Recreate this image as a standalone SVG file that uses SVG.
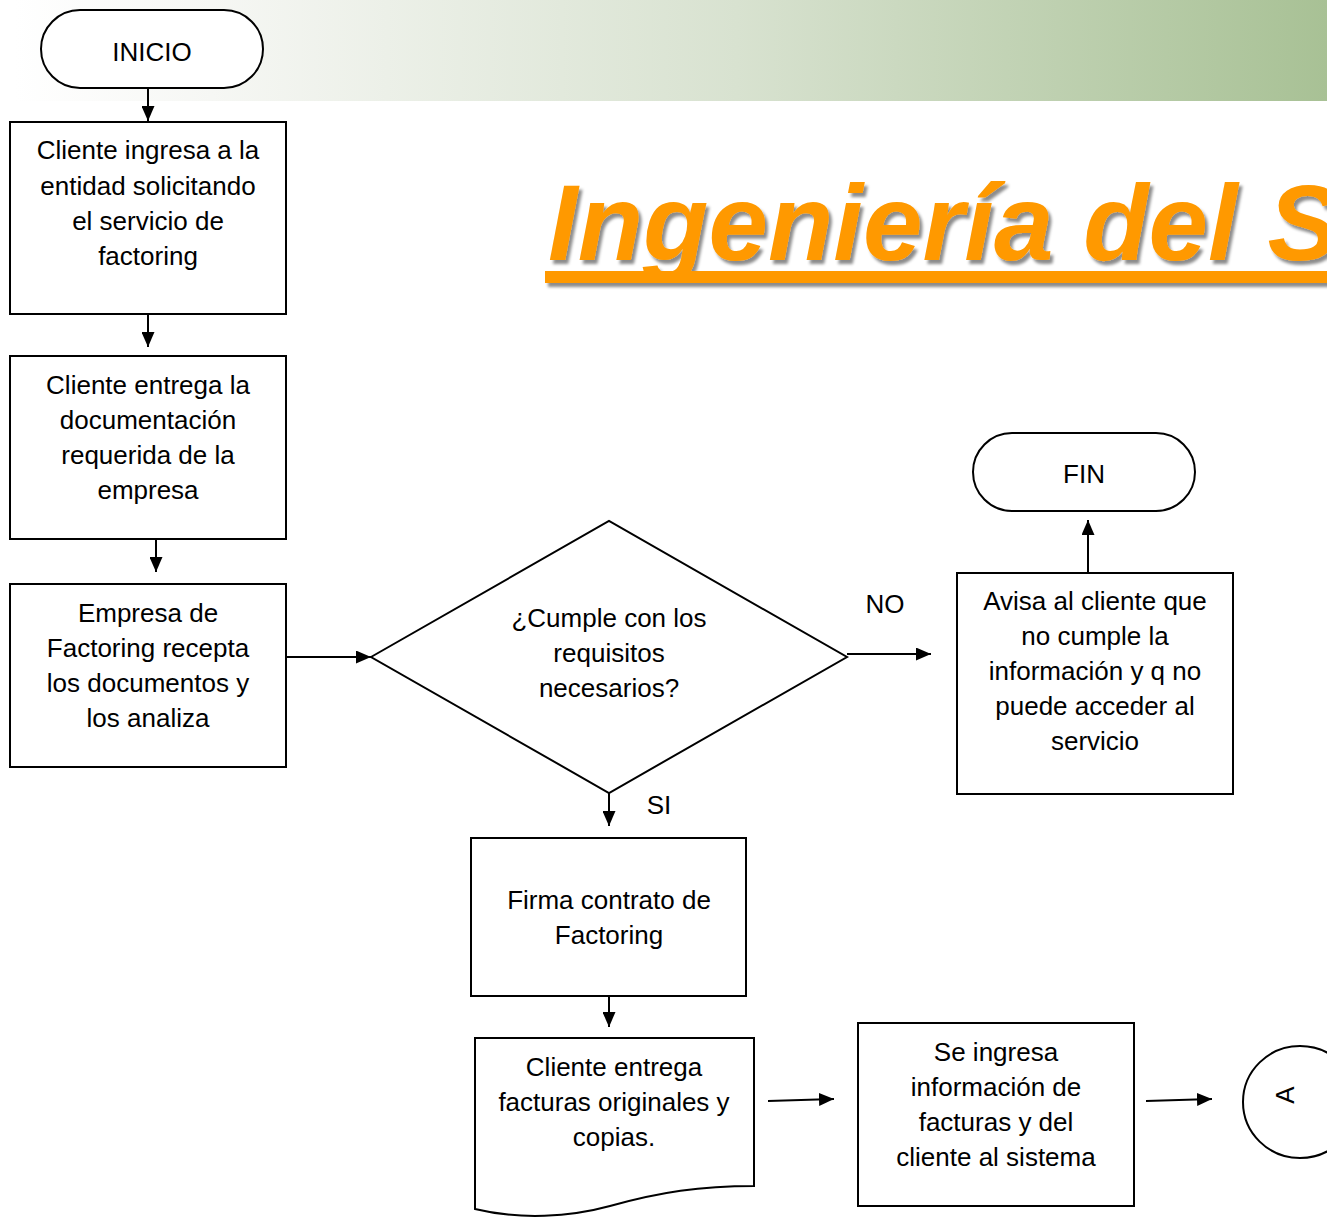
<svg xmlns="http://www.w3.org/2000/svg" width="1327" height="1218" viewBox="0 0 1327 1218">
<defs>
<linearGradient id="bg" x1="0" y1="0" x2="1" y2="0">
<stop offset="0" stop-color="#ffffff"/>
<stop offset="0.15" stop-color="#f6f7f4"/>
<stop offset="0.55" stop-color="#d8e2d0"/>
<stop offset="1" stop-color="#a8c195"/>
</linearGradient>
<marker id="ah" viewBox="0 0 15 13" refX="15" refY="6.5" markerWidth="15" markerHeight="13" markerUnits="userSpaceOnUse" orient="auto">
<path d="M0,0 L15,6.5 L0,13 z" fill="#000"/>
</marker>
<filter id="sh" x="-5%" y="-20%" width="110%" height="140%">
<feDropShadow dx="3" dy="4" stdDeviation="1.5" flood-color="#000" flood-opacity="0.45"/>
</filter>
</defs>
<style>
.n{fill:#fff;stroke:#000;stroke-width:2}
.t{font-family:"Liberation Sans",Arial,sans-serif;font-size:26px;fill:#000;text-anchor:middle}
.c{stroke:#000;stroke-width:2;fill:none;marker-end:url(#ah)}
</style>
<rect x="15" y="0" width="1312" height="101" fill="url(#bg)"/>
<g id="title" filter="url(#sh)">
<text x="548" y="260" font-family="Liberation Sans,Arial,sans-serif" font-size="107" font-weight="bold" font-style="italic" fill="#ff9900">Ingeniería del S</text>
<rect x="545" y="271" width="782" height="12" fill="#ff9900"/>
</g>
<g id="connectors">
<line class="c" x1="148" y1="88" x2="148" y2="121"/>
<line class="c" x1="148" y1="314" x2="148" y2="347"/>
<line class="c" x1="156" y1="539" x2="156" y2="572"/>
<line class="c" x1="286" y1="657" x2="371" y2="657"/>
<line class="c" x1="847" y1="654" x2="931" y2="654"/>
<line class="c" x1="1088" y1="573" x2="1088" y2="520"/>
<line class="c" x1="609" y1="793" x2="609" y2="826"/>
<line class="c" x1="609" y1="996" x2="609" y2="1027"/>
<line class="c" x1="768" y1="1101" x2="834" y2="1099"/>
<line class="c" x1="1146" y1="1101" x2="1212" y2="1099"/>
<text class="t" x="885" y="613">NO</text>
<text class="t" x="659" y="814">SI</text>
</g>
<g id="inicio">
<rect class="n" x="41" y="10" width="222" height="78" rx="39" ry="39"/>
<text class="t" x="152" y="61">INICIO</text>
</g>
<g id="box1">
<rect class="n" x="10" y="122" width="276" height="192"/>
<text class="t" x="148" y="159">Cliente ingresa a la</text>
<text class="t" x="148" y="195">entidad solicitando</text>
<text class="t" x="148" y="230">el servicio de</text>
<text class="t" x="148" y="265">factoring</text>
</g>
<g id="box2">
<rect class="n" x="10" y="356" width="276" height="183"/>
<text class="t" x="148" y="394">Cliente entrega la</text>
<text class="t" x="148" y="429">documentación</text>
<text class="t" x="148" y="464">requerida de la</text>
<text class="t" x="148" y="499">empresa</text>
</g>
<g id="box3">
<rect class="n" x="10" y="584" width="276" height="183"/>
<text class="t" x="148" y="622">Empresa de</text>
<text class="t" x="148" y="657">Factoring recepta</text>
<text class="t" x="148" y="692">los documentos y</text>
<text class="t" x="148" y="727">los analiza</text>
</g>
<g id="decision">
<polygon class="n" points="371,657 609,521 847,657 609,793"/>
<text class="t" x="609" y="627">¿Cumple con los</text>
<text class="t" x="609" y="662">requisitos</text>
<text class="t" x="609" y="697">necesarios?</text>
</g>
<g id="avisa">
<rect class="n" x="957" y="573" width="276" height="221"/>
<text class="t" x="1095" y="610">Avisa al cliente que</text>
<text class="t" x="1095" y="645">no cumple la</text>
<text class="t" x="1095" y="680">información y q no</text>
<text class="t" x="1095" y="715">puede acceder al</text>
<text class="t" x="1095" y="750">servicio</text>
</g>
<g id="fin">
<rect class="n" x="973" y="433" width="222" height="78" rx="39" ry="39"/>
<text class="t" x="1084" y="483">FIN</text>
</g>
<g id="firma">
<rect class="n" x="471" y="838" width="275" height="158"/>
<text class="t" x="609" y="909">Firma contrato de</text>
<text class="t" x="609" y="944">Factoring</text>
</g>
<g id="documento">
<path class="n" d="M475,1038 L754,1038 L754,1186 C700,1186 660,1192 610,1206 C570,1217 520,1220 475,1209 Z"/>
<text class="t" x="614" y="1076">Cliente entrega</text>
<text class="t" x="614" y="1111">facturas originales y</text>
<text class="t" x="614" y="1146">copias.</text>
</g>
<g id="sistema">
<rect class="n" x="858" y="1023" width="276" height="183"/>
<text class="t" x="996" y="1061">Se ingresa</text>
<text class="t" x="996" y="1096">información de</text>
<text class="t" x="996" y="1131">facturas y del</text>
<text class="t" x="996" y="1166">cliente al sistema</text>
</g>
<g id="conectorA">
<ellipse class="n" cx="1300" cy="1102" rx="57" ry="56"/>
<text class="t" transform="translate(1285,1095) rotate(-90)" x="0" y="9">A</text>
</g>
</svg>
